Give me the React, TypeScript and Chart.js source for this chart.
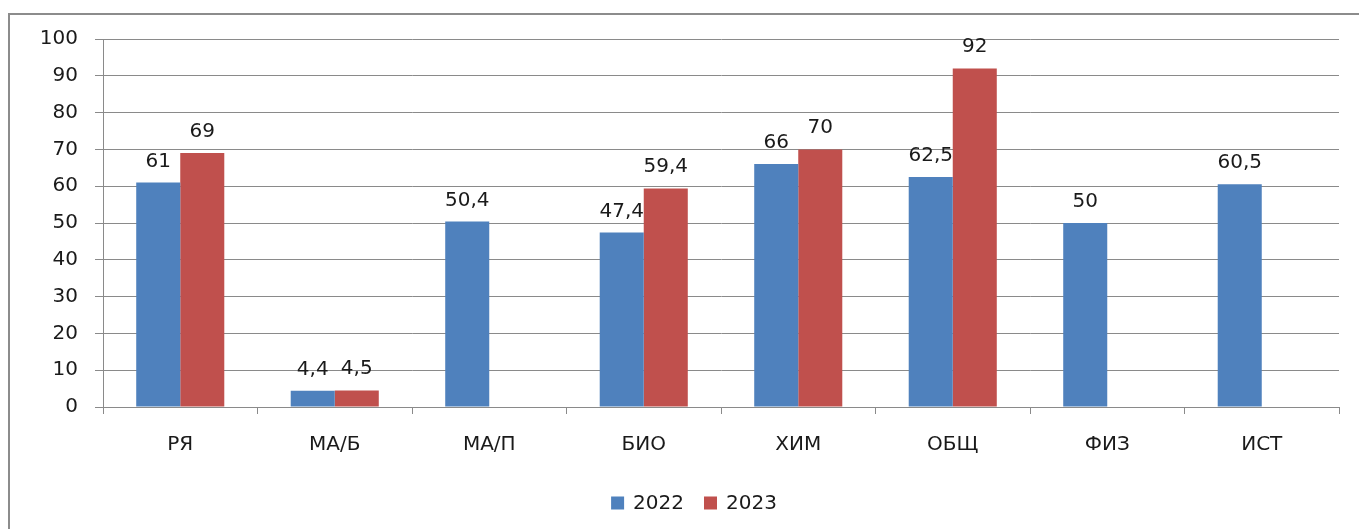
import React, { useEffect, useRef } from "react";
import { Chart, registerables } from "chart.js";

Chart.register(...registerables);

const categories = ["РЯ", "МА/Б", "МА/П", "БИО", "ХИМ", "ОБЩ", "ФИЗ", "ИСТ"];
const values2022 = [61, 4.4, 50.4, 47.4, 66, 62.5, 50, 60.5];
const values2023: (number | null)[] = [69, 4.5, null, 59.4, 70, 92, null, null];
const seriesLabels = ["2022", "2023"];
const seriesColors = ["#4F81BD", "#C0504D"];
const yTicks = [0, 10, 20, 30, 40, 50, 60, 70, 80, 90, 100];

const FONT = "'DejaVu Sans', Verdana, sans-serif";
const FS = 20;
const GRID = "#8a8a8a";
const TEXT = "#1a1a1a";

const fmt = (v: number) => String(v).replace(".", ",");

const labelsPlugin = {
  id: "valueLabels",
  afterDatasetsDraw(chart: any) {
    const ctx = chart.ctx;
    ctx.save();
    ctx.font = `${FS}px ${FONT}`;
    ctx.fillStyle = TEXT;
    ctx.textAlign = "center";
    ctx.textBaseline = "alphabetic";
    chart.data.datasets.forEach((ds: any, i: number) => {
      const meta = chart.getDatasetMeta(i);
      meta.data.forEach((bar: any, j: number) => {
        const v = ds.data[j];
        if (v === null || v === undefined) return;
        ctx.fillText(fmt(v), bar.x, bar.y - 16);
      });
    });
    ctx.restore();
  },
};

const legendPlugin = {
  id: "customLegend",
  afterDraw(chart: any) {
    const ctx = chart.ctx;
    ctx.save();
    ctx.font = `${FS}px ${FONT}`;
    const box = 13;
    const gapBoxText = 9;
    const gapItems = 20;
    const items = chart.data.datasets.map((ds: any) => ({
      label: ds.label,
      color: ds.backgroundColor,
      w: ctx.measureText(ds.label).width,
    }));
    const total =
      items.reduce((s: number, it: any) => s + box + gapBoxText + it.w, 0) +
      gapItems * (items.length - 1);
    let x = 694 - total / 2;
    const cy = 503;
    ctx.textBaseline = "middle";
    ctx.textAlign = "left";
    items.forEach((it: any) => {
      ctx.fillStyle = it.color;
      ctx.fillRect(x, cy - box / 2, box, box);
      x += box + gapBoxText;
      ctx.fillStyle = TEXT;
      ctx.fillText(it.label, x, cy + 1);
      x += it.w + gapItems;
    });
    ctx.restore();
  },
};

export default function App() {
  const ref = useRef<HTMLCanvasElement | null>(null);
  useEffect(() => {
    if (!ref.current) return;
    const chart = new Chart(ref.current, {
      type: "bar",
      data: {
        labels: categories,
        datasets: [
          { label: seriesLabels[0], data: values2022, backgroundColor: seriesColors[0], borderWidth: 0 },
          { label: seriesLabels[1], data: values2023, backgroundColor: seriesColors[1], borderWidth: 0 },
        ],
      },
      options: {
        responsive: false,
        animation: false,
        layout: { padding: { left: 0, right: 20, top: 39, bottom: 42 } },
        datasets: { bar: { categoryPercentage: 0.57, barPercentage: 1 } },
        plugins: { legend: { display: false }, tooltip: { enabled: false } },
        scales: {
          x: {
            grid: { offset: true, drawOnChartArea: false, color: GRID, tickLength: 7 },
            border: { display: true, color: GRID },
            ticks: { color: TEXT, font: { family: FONT, size: FS }, padding: 19 },
            afterFit: (s: any) => {
              s.height = 80;
            },
          },
          y: {
            min: 0,
            max: 100,
            afterBuildTicks: (s: any) => {
              s.ticks = yTicks.map((v) => ({ value: v }));
            },
            grid: { color: GRID, tickLength: 8 },
            border: { display: true, color: GRID },
            ticks: { color: TEXT, font: { family: FONT, size: FS }, padding: 17 },
            afterFit: (s: any) => {
              s.width = 103;
            },
          },
        },
      },
      plugins: [labelsPlugin, legendPlugin],
    });
    return () => chart.destroy();
  }, []);

  return (
    <div style={{ position: "absolute", left: 0, top: 0, width: 1359, height: 529, background: "#fff", overflow: "hidden" }}>
      <div
        style={{
          position: "absolute",
          left: 8,
          top: 13,
          width: 1400,
          height: 600,
          borderLeft: "2px solid #8c8c8c",
          borderTop: "2px solid #8c8c8c",
        }}
      />
      <canvas ref={ref} width={1359} height={529} style={{ position: "absolute", left: 0, top: 0 }} />
    </div>
  );
}
